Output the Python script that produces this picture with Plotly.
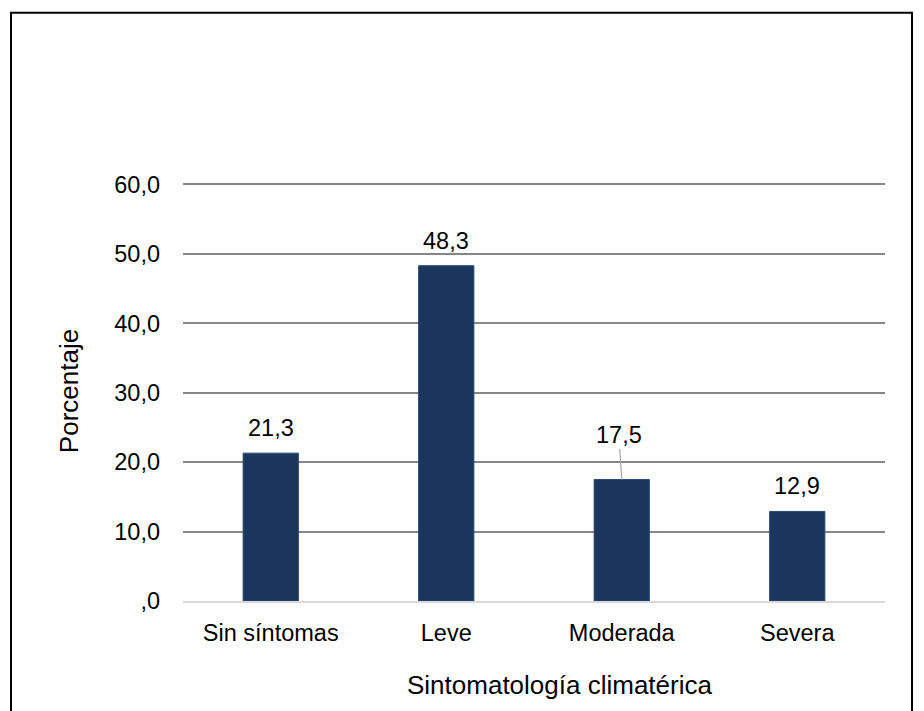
import plotly.graph_objects as go

# Distribution of climacteric symptom severity (percent of respondents)
categorias = ["Sin síntomas", "Leve", "Moderada", "Severa"]
porcentajes = [21.3, 48.3, 17.5, 12.9]

tick_vals = [0, 10, 20, 30, 40, 50, 60]
tick_text = [",0", "10,0", "20,0", "30,0", "40,0", "50,0", "60,0"]

BAR_COLOR = "#1b365d"
FONT = "Liberation Sans, Arial, sans-serif"
TICK_SIZE = 23.5
TITLE_SIZE = 26

fig = go.Figure(
    go.Bar(
        x=categorias,
        y=porcentajes,
        marker=dict(color=BAR_COLOR, line=dict(color="#2c4a74", width=1)),
        width=0.315,
        hoverinfo="x+y",
    )
)

# Value labels above each bar; the "Moderada" label is lifted with a leader line
annotations = []
for cat, val in zip(categorias, porcentajes):
    label = f"{val:.1f}".replace(".", ",")
    if cat == "Moderada":
        annotations.append(dict(
            x=cat, y=val, xref="x", yref="y", text=label,
            showarrow=True, arrowhead=0, arrowwidth=1.2, arrowcolor="#a6a6a6",
            ax=-3, ay=-45, standoff=0,
            font=dict(family=FONT, size=TICK_SIZE, color="#000000"),
        ))
    else:
        annotations.append(dict(
            x=cat, y=val, xref="x", yref="y", text=label,
            showarrow=False, yanchor="bottom", yshift=10,
            font=dict(family=FONT, size=TICK_SIZE, color="#000000"),
        ))

# x-axis title, set slightly right of the plot centre
annotations.append(dict(
    text="Sintomatología climatérica", xref="paper", yref="paper",
    x=0.537, y=-0.20, xanchor="center", yanchor="middle", showarrow=False,
    font=dict(family=FONT, size=TITLE_SIZE, color="#000000"),
))

fig.update_layout(
    width=924,
    height=711,
    margin=dict(l=183, r=39, t=180.5, b=110, pad=0),
    paper_bgcolor="white",
    plot_bgcolor="white",
    font=dict(family=FONT, size=TICK_SIZE, color="#000000"),
    showlegend=False,
    annotations=annotations,
    xaxis=dict(
        showgrid=False,
        showline=True,
        linecolor="#d9d9d9",
        linewidth=2,
        ticks="",
        ticklabelstandoff=10,
        tickfont=dict(family=FONT, size=TICK_SIZE),
    ),
    yaxis=dict(
        range=[0, 60.5],
        tickvals=tick_vals,
        ticktext=tick_text,
        showgrid=True,
        gridcolor="#868686",
        gridwidth=1.5,
        zeroline=False,
        showline=False,
        ticks="",
        ticklabelstandoff=22,
        tickfont=dict(family=FONT, size=TICK_SIZE),
        title=dict(text="Porcentaje", font=dict(family=FONT, size=TITLE_SIZE), standoff=28),
    ),
    shapes=[
        # outer frame around the whole chart
        dict(type="rect", xref="paper", yref="paper",
             x0=-0.245, x1=1.0385, y0=-0.30, y1=1.4007,
             line=dict(color="#000000", width=2), fillcolor="rgba(0,0,0,0)",
             layer="below"),
    ],
)

fig.write_html("out.html")
